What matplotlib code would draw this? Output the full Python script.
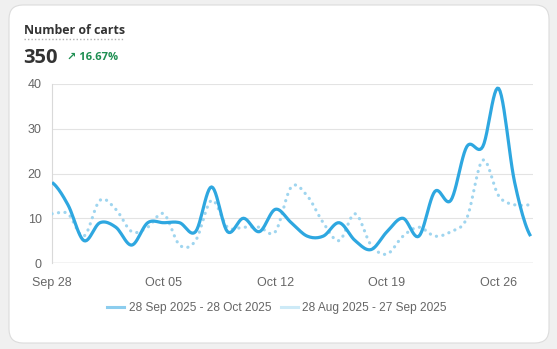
import numpy as np
import matplotlib.pyplot as plt
from matplotlib.patches import FancyBboxPatch
from matplotlib.lines import Line2D

# data (one value per day)
current = [18, 13, 5, 9, 8, 4, 9, 9, 9, 7, 17, 7, 10, 7, 12, 9, 6, 6, 9, 5,
           3, 7, 10, 6, 16, 14, 26, 26, 39, 18, 6]
previous = [11, 11, 6, 14, 12, 7, 8, 11, 4, 5, 14, 8, 8, 8, 7, 17, 15, 9, 5, 11,
            4, 2, 6, 8, 6, 7, 10, 23, 15, 13, 13]
tick_days = [0, 7, 14, 21, 28]
tick_labels = ['Sep 28', 'Oct 05', 'Oct 12', 'Oct 19', 'Oct 26']
y_ticks = [0, 10, 20, 30, 40]
legend_labels = ['28 Sep 2025 - 28 Oct 2025', '28 Aug 2025 - 27 Sep 2025']
total = 350
change = '16.67%'

CUR = '#2ea7e0'
PREV = '#9fd5ef'


def smooth(y, n=12, t=0.5):
    # catmull-rom style curve through the points, for drawing only
    y = np.asarray(y, float)
    x = np.arange(len(y), dtype=float)
    p = np.concatenate([[y[0]], y, [y[-1]]])
    xs, ys = [], []
    for i in range(len(y) - 1):
        p0, p1, p2, p3 = p[i], p[i + 1], p[i + 2], p[i + 3]
        m1 = t * (p2 - p0)
        m2 = t * (p3 - p1)
        s = np.linspace(0, 1, n, endpoint=False)
        h00 = 2 * s**3 - 3 * s**2 + 1
        h10 = s**3 - 2 * s**2 + s
        h01 = -2 * s**3 + 3 * s**2
        h11 = s**3 - s**2
        ys.append(h00 * p1 + h10 * m1 + h01 * p2 + h11 * m2)
        xs.append(x[i] + s)
    xs.append([x[-1]])
    ys.append([y[-1]])
    return np.concatenate(xs), np.concatenate(ys)


plt.rcParams['font.family'] = ['Liberation Sans', 'DejaVu Sans']

fig = plt.figure(figsize=(5.57, 3.49), dpi=100)
fig.patch.set_facecolor('#f0f0f0')

# card
card = FancyBboxPatch((9 / 557, 1 - 343 / 349), 540 / 557, 338 / 349,
                      boxstyle='round,pad=0,rounding_size=0.025',
                      transform=fig.transFigure, facecolor='white',
                      edgecolor='#dcdcdc', lw=0.8, mutation_aspect=557 / 349,
                      zorder=-10)
fig.patches.append(card)

ax = fig.add_axes([52 / 557, 1 - 263 / 349, 481 / 557, 179 / 349])
ax.set_facecolor('none')

xp, yp = smooth(previous)
ax.plot(xp, yp, color=PREV, lw=2.3, linestyle=(0, (0.05, 2.0)),
        dash_capstyle='round', zorder=3)
xc, yc = smooth(current)
ax.plot(xc, yc, color=CUR, lw=2.3, solid_capstyle='butt', zorder=4)

ax.set_xlim(0, 30.15)
ax.set_ylim(0, 40)
ax.set_yticks(y_ticks)
ax.set_xticks(tick_days)
ax.set_xticklabels(tick_labels)
ax.grid(axis='y', color='#e3e3e3', lw=0.8)
ax.set_axisbelow(True)
for s in ['top', 'right', 'bottom']:
    ax.spines[s].set_visible(False)
ax.spines['left'].set_color('#d9d9d9')
ax.spines['left'].set_linewidth(0.8)
ax.axhline(0, color='#cccccc', lw=1.0, zorder=2)
ax.tick_params(axis='both', length=0, labelsize=9, colors='#666666')
ax.tick_params(axis='y', pad=7.5)
ax.tick_params(axis='x', pad=10)

# header
fig.text(24 / 557, 1 - 30 / 349, 'Number of carts', fontsize=8.9,
         fontweight='bold', color='#333333', family=['Open Sans', 'DejaVu Sans'],
         va='center', ha='left')
fig.add_artist(Line2D([24 / 557, 124 / 557], [1 - 39 / 349] * 2,
                      transform=fig.transFigure, color='#b0b0b0', lw=1,
                      linestyle=(0, (1, 1.5))))
fig.text(23 / 557, 1 - 58 / 349, str(total), fontsize=14.5, fontweight='bold',
         color='#333333', family=['Open Sans', 'DejaVu Sans'],
         va='center', ha='left')
fig.text(67 / 557, 1 - 58 / 349, '\u2197 ' + change, fontsize=8,
         fontweight='bold', color='#1e8f52',
         family=['Open Sans', 'DejaVu Sans'], va='center', ha='left')

handles = [Line2D([], [], color='#8ccdee', lw=2.2),
           Line2D([], [], color='#cdeaf7', lw=2.2)]
fig.legend(handles, legend_labels, loc='center', ncol=2,
           bbox_to_anchor=(277 / 557, 1 - 308 / 349), frameon=False,
           fontsize=8.6, labelcolor='#666666', handlelength=1.4,
           handletextpad=0.4, columnspacing=0.8)

fig.savefig('out.png', dpi=100, facecolor=fig.get_facecolor())
